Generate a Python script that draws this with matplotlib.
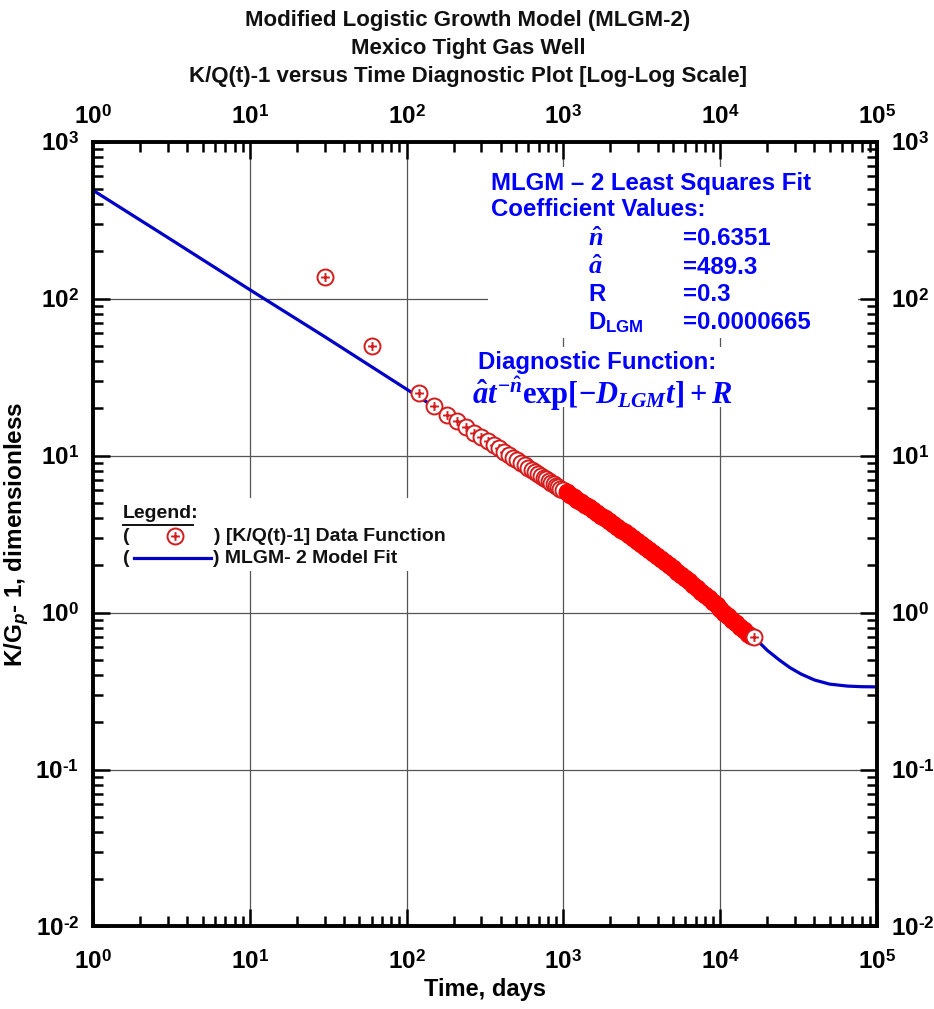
import numpy as np
import matplotlib
matplotlib.use("Agg")
import matplotlib.pyplot as plt
import matplotlib.transforms as mtransforms
from matplotlib.path import Path
from matplotlib.patches import Rectangle
from matplotlib.ticker import FixedLocator, LogLocator, FuncFormatter, NullFormatter

plt.rcParams["font.family"] = ["Liberation Sans", "DejaVu Sans"]
plt.rcParams["font.weight"] = "bold"
plt.rcParams["mathtext.fontset"] = "custom"
plt.rcParams["mathtext.sf"] = "Liberation Sans:bold"
plt.rcParams["mathtext.bf"] = "Liberation Sans:bold:italic"
plt.rcParams["mathtext.rm"] = "Liberation Serif:bold"
plt.rcParams["mathtext.it"] = "Liberation Serif:bold:italic"

# K/Q(t)-1 data function (time in days)
t_days = [30, 60,
          120, 150, 180, 210, 240, 270, 300, 330, 360, 390, 420, 450, 480, 510,
          540, 570, 600, 630, 660, 690, 720, 750, 780, 810, 840, 870, 900, 930,
          960, 990,
          1050, 1110, 1170, 1230, 1300, 1380, 1460, 1550, 1650, 1750, 1850, 1960,
          2080, 2200, 2330, 2470, 2620, 2780, 2950, 3130, 3320, 3520, 3730, 3950,
          4190, 4440, 4710, 4990, 5290, 5610, 5950, 6310, 6690, 7090, 7520, 7970,
          8450, 8960, 9500, 10070, 10680, 11320, 12000, 12720, 13490, 14300,
          15160, 15700, 16360]
kq_values = [138, 50,
             25.0, 20.6, 18.2, 16.5, 15.1, 14.0, 13.1, 12.3, 11.7, 11.1, 10.6,
             10.1, 9.70, 9.32, 8.98, 8.67, 8.39, 8.13, 7.88, 7.66, 7.45, 7.25,
             7.07, 6.89, 6.73, 6.58, 6.43, 6.29, 6.16, 6.04,
             5.84, 5.63, 5.43, 5.25, 5.06, 4.86, 4.68, 4.49, 4.30, 4.13, 3.98,
             3.82, 3.67, 3.52, 3.38, 3.24, 3.11, 2.98, 2.85, 2.73, 2.61, 2.50,
             2.39, 2.29, 2.19, 2.09, 2.00, 1.91, 1.82, 1.74, 1.66, 1.58, 1.50,
             1.43, 1.36, 1.29, 1.23, 1.17, 1.11, 1.055, 1.00, 0.95, 0.90, 0.855,
             0.81, 0.77, 0.731, 0.71, 0.698]

# MLGM-2 model fit curve
model_t = [1, 3, 10, 30, 100, 300, 1000, 3000, 10000, 14000, 17000, 20000,
           24000, 28000, 33000, 40000, 50000, 65000, 80000, 100000]
model_y = [490, 245, 114, 57.3, 26.5, 13.2, 6.0, 2.81, 1.07, 0.78, 0.675, 0.575,
           0.497, 0.445, 0.405, 0.372, 0.350, 0.340, 0.337, 0.336]

x_decades = [0, 1, 2, 3, 4, 5]
y_decades = [-2, -1, 0, 1, 2, 3]

BLUE_TXT = "#0000ff"
RING = "#d41c1c"


def ring_plus_marker():
    circ = Path.unit_circle()
    plus = Path([(-0.55, 0), (0.55, 0), (0, -0.55), (0, 0.55)],
                [Path.MOVETO, Path.LINETO, Path.MOVETO, Path.LINETO])
    return Path.make_compound_path(circ, plus)


def dec_label(v, pos):
    e = int(round(np.log10(v)))
    return r"$\mathsf{10}^{\mathsf{%s}}$" % (str(e) if e >= 0 else "\u2010" + str(-e))


def main():
    fig = plt.figure(figsize=(9.34, 10.09), dpi=100)
    ax = fig.add_axes([0.0996, 0.0818, 0.8391, 0.7778])
    ax.set_xscale("log")
    ax.set_yscale("log")
    ax.set_xlim(1, 1e5)
    ax.set_ylim(1e-2, 1e3)
    ax.set_axisbelow(True)

    mk = ring_plus_marker()
    t = np.array(t_days, dtype=float)
    y = np.array(kq_values, dtype=float)

    ax.plot(model_t, model_y, color="#0000c8", lw=2.3, zorder=2)

    # sparse early points: ring + plus, drawn one after another
    early = t < 1000
    ax.plot(t[early], y[early], linestyle="none", marker=mk, ms=11.5,
            mfc="white", mec=RING, mew=1.4, zorder=3)
    # dense monthly points merge into a solid band
    band = (t >= 1000) & (t < t[-1])
    ax.plot(t[band], y[band], linestyle="none", marker="o", ms=11.5,
            mfc="#ff0000", mec="#ff0000", mew=1.4, zorder=3)
    ax.plot(t[-1:], y[-1:], linestyle="none", marker=mk, ms=11.5,
            mfc="white", mec=RING, mew=1.4, zorder=4)

    # axes styling
    for s in ax.spines.values():
        s.set_linewidth(2.8)
        s.set_zorder(5)
    ax.xaxis.set_major_locator(FixedLocator([10.0 ** d for d in x_decades]))
    ax.yaxis.set_major_locator(FixedLocator([10.0 ** d for d in y_decades]))
    ax.xaxis.set_minor_locator(LogLocator(base=10, subs=np.arange(2, 10), numticks=100))
    ax.yaxis.set_minor_locator(LogLocator(base=10, subs=np.arange(2, 10), numticks=100))
    ax.xaxis.set_major_formatter(FuncFormatter(dec_label))
    ax.yaxis.set_major_formatter(FuncFormatter(dec_label))
    ax.xaxis.set_minor_formatter(NullFormatter())
    ax.yaxis.set_minor_formatter(NullFormatter())
    ax.tick_params(which="both", direction="in", top=True, right=True,
                   labeltop=True, labelright=True, labelsize=17.5, width=1.8)
    ax.tick_params(which="major", length=12)
    ax.tick_params(which="minor", length=7)
    ax.tick_params(axis="x", which="major", pad=17)
    ax.tick_params(axis="y", which="major", pad=10)
    ax.grid(True, which="major", color="#555555", lw=0.9)

    # top labels sit closer to the frame than the bottom ones
    down = mtransforms.ScaledTranslation(0, -8 / 72, fig.dpi_scale_trans)
    for tk in ax.xaxis.get_major_ticks():
        tk.label2.set_transform(tk.label2.get_transform() + down)

    ax.set_xlabel("Time, days", fontsize=17, fontweight="bold", labelpad=3)
    ax.set_ylabel("K/G$_{\\mathbf{p}}$- 1, dimensionless", fontsize=17.5,
                  fontweight="bold", labelpad=4)

    # white panels behind the annotation blocks (break the grid like the original)
    for x0, y0, w, h in [(0.504, 0.750, 0.472, 0.218),
                         (0.481, 0.662, 0.351, 0.076),
                         (0.022, 0.453, 0.446, 0.093)]:
        ax.add_patch(Rectangle((x0, y0), w, h, transform=ax.transAxes,
                               facecolor="white", edgecolor="none", zorder=1))

    tx = dict(transform=ax.transAxes, color=BLUE_TXT, fontsize=17.3,
              fontweight="bold", va="center", ha="left", zorder=6)
    ax.text(0.508, 0.947, "MLGM \u2013 2 Least Squares Fit", **tx)
    ax.text(0.508, 0.913, "Coefficient Values:", **tx)
    rows = [(r"$\hat{n}$", "=0.6351", 0.876),
            (r"$\hat{a}$", "=489.3", 0.840),
            ("R", "=0.3", 0.805),
            ("D$_{\\mathsf{LGM}}$", "=0.0000665", 0.769)]
    for name, val, yy in rows:
        fs = 19 if name.startswith("$") else 17.3
        ax.text(0.632, yy, name, **dict(tx, fontsize=fs))
        ax.text(0.753, yy, val, **tx)
    ax.text(0.491, 0.719, "Diagnostic Function:", **tx)
    ax.text(0.484, 0.679, r"$\hat{a}t^{-\hat{n}}\mathrm{exp}[-D_{LGM}t]+R$",
            **dict(tx, fontsize=22))

    # hand drawn legend
    lt = dict(transform=ax.transAxes, color="#111111", fontsize=14,
              fontweight="bold", va="center", ha="left", zorder=6)
    ax.text(0.0383, 0.526, "Legend:", **lt)
    ax.plot([0.0383, 0.128], [0.5115, 0.5115], transform=ax.transAxes,
            color="#111111", lw=1.4, zorder=6)
    ax.text(0.0383, 0.4975, "(", **lt)
    ax.plot([0.1046], [0.4975], transform=ax.transAxes, marker=mk, ms=11.5,
            mfc="white", mec=RING, mew=1.4, linestyle="none", zorder=6)
    ax.text(0.1545, 0.4975, ") [K/Q(t)-1] Data Function", **lt)
    ax.text(0.0383, 0.4695, "(", **lt)
    ax.plot([0.0523, 0.1506], [0.4695, 0.4695], transform=ax.transAxes,
            color="#0000c8", lw=2.3, zorder=6)
    ax.text(0.1525, 0.4695, ") MLGM- 2 Model Fit", **lt)

    tt = dict(ha="center", va="center", fontsize=16, fontweight="bold",
              color="#111111")
    fig.text(0.501, 0.9795, "Modified Logistic Growth Model (MLGM-2)", **tt)
    fig.text(0.501, 0.9515, "Mexico Tight Gas Well", **tt)
    fig.text(0.501, 0.9245, "K/Q(t)-1 versus Time Diagnostic Plot [Log-Log Scale]", **tt)

    fig.savefig("out.png", dpi=100)
    plt.close(fig)


if __name__ == "__main__":
    main()
